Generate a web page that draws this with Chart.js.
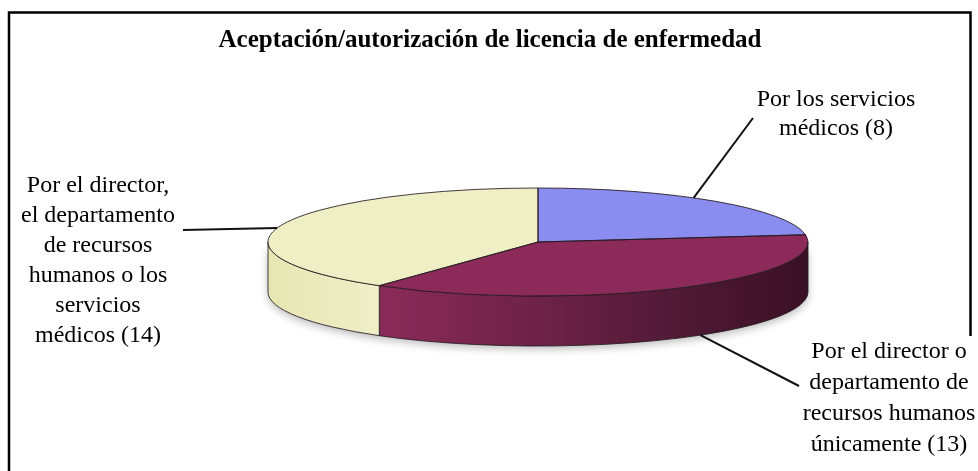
<!DOCTYPE html>
<html>
<head>
<meta charset="utf-8">
<script src="https://cdn.jsdelivr.net/npm/chart.js@4.4.1/dist/chart.umd.min.js"></script>
<style>
html,body{margin:0;padding:0;background:#ffffff;}
#wrap{width:978px;height:471px;position:relative;overflow:hidden;}
canvas{display:block;}
</style>
</head>
<body>
<div id="wrap"><canvas id="c" width="978" height="471"></canvas></div>
<script>
// ---- data ----
const chartTitle = "Aceptación/autorización de licencia de enfermedad";
const categories = [
  "Por los servicios médicos",
  "Por el director o departamento de recursos humanos únicamente",
  "Por el director, el departamento de recursos humanos o los servicios médicos"
];
const counts = [8, 13, 14];
const labelLines = [
  ["Por los servicios", "médicos"],
  ["Por el director o", "departamento de", "recursos humanos", "únicamente"],
  ["Por el director,", "el departamento", "de recursos", "humanos o los", "servicios", "médicos"]
];

// ---- styles / layout ----
const topColors = ["#8a8cf0", "#8c2a5a", "#efefc6"];
const DEPTH = 50;
const FONT = '"Liberation Serif", "Times New Roman", serif';
const labelLayout = [
  { x: 836, y: 106, lh: 29, anchorDeg: -54.8, onSide: false, end: [753, 118] },
  { x: 889, y: 358, lh: 31, anchorDeg: 53, onSide: true, end: [799, 386], whiteBox: true },
  { x: 98,  y: 192, lh: 30, anchorDeg: -165, onSide: false, end: [183, 230] }
];

function geom(chart) {
  const arc = chart.getDatasetMeta(0).data[0];
  const a = chart.chartArea;
  return { cx: arc.x, cy: arc.y, r: arc.outerRadius, rx: a.width / 2, ry: a.height / 2, depth: DEPTH };
}
function ellPt(g, ang, dy) {
  return [g.cx + g.rx * Math.cos(ang), g.cy + dy + g.ry * Math.sin(ang)];
}
function frontSegments(s, e) {
  const out = [];
  for (let k = -2; k <= 2; k++) {
    const lo = Math.max(s, 2 * Math.PI * k), hi = Math.min(e, 2 * Math.PI * k + Math.PI);
    if (hi > lo) out.push([lo, hi]);
  }
  return out;
}
function sidePath(c, g, a1, a2) {
  c.beginPath();
  c.ellipse(g.cx, g.cy, g.rx, g.ry, 0, a1, a2, false);
  c.ellipse(g.cx, g.cy + g.depth, g.rx, g.ry, 0, a2, a1, true);
  c.closePath();
}
function sideFill(c, g, i) {
  const x0 = g.cx - g.rx, x1 = g.cx + g.rx;
  const grd = c.createLinearGradient(x0, 0, x1, 0);
  if (i === 1) {
    grd.addColorStop(0, "#8e2d5b");
    grd.addColorStop(0.2, "#8a2b58");
    grd.addColorStop(0.5, "#6e2248");
    grd.addColorStop(0.75, "#511a35");
    grd.addColorStop(1, "#3a1024");
  } else if (i === 2) {
    grd.addColorStop(0, "#e6e6b3");
    grd.addColorStop(0.2, "#efefc8");
    grd.addColorStop(1, "#efefc8");
  } else {
    grd.addColorStop(0, "#6b6dc8");
    grd.addColorStop(1, "#6b6dc8");
  }
  return grd;
}

const pie3d = {
  id: 'pie3d',
  beforeDatasetsDraw(chart) {
    const c = chart.ctx;
    const g = geom(chart);
    const meta = chart.getDatasetMeta(0);
    // soft shadow under the whole front wall
    c.save();
    c.shadowColor = 'rgba(0,0,0,0.28)';
    c.shadowBlur = 8;
    c.shadowOffsetY = 3;
    sidePath(c, g, 0, Math.PI);
    c.fillStyle = '#ffffff';
    c.fill();
    c.restore();
    // side walls
    meta.data.forEach((arc, i) => {
      frontSegments(arc.startAngle, arc.endAngle).forEach(([a1, a2]) => {
        c.save();
        sidePath(c, g, a1, a2);
        c.fillStyle = sideFill(c, g, i);
        c.fill();
        c.lineWidth = 1;
        c.strokeStyle = 'rgba(35,25,30,0.85)';
        c.stroke();
        c.restore();
      });
    });
    // projection for the top face
    c.save();
    c.translate(g.cx, g.cy);
    c.scale(g.rx / g.r, g.ry / g.r);
    c.translate(-g.cx, -g.cy);
  },
  afterDatasetsDraw(chart) {
    const c = chart.ctx;
    c.restore();
    const g = geom(chart);
    const meta = chart.getDatasetMeta(0);
    meta.data.forEach((arc) => {
      c.save();
      c.beginPath();
      c.moveTo(g.cx, g.cy);
      c.ellipse(g.cx, g.cy, g.rx, g.ry, 0, arc.startAngle, arc.endAngle, false);
      c.closePath();
      c.lineWidth = 1;
      c.strokeStyle = 'rgba(35,25,30,0.85)';
      c.stroke();
      c.restore();
    });
  },
  afterDraw(chart) {
    const c = chart.ctx;
    const g = geom(chart);
    c.save();
    // frame
    c.lineWidth = 2.5;
    c.strokeStyle = '#000';
    c.beginPath();
    c.moveTo(9, 480);
    c.lineTo(9, 12.5);
    c.lineTo(970.5, 12.5);
    c.lineTo(970.5, 480);
    c.stroke();
    // title
    c.fillStyle = '#000';
    c.font = 'bold 25px ' + FONT;
    c.textAlign = 'center';
    c.textBaseline = 'alphabetic';
    c.fillText(chartTitle, 490, 47);
    // labels
    c.font = '24px ' + FONT;
    labelLayout.forEach((L, i) => {
      const lines = labelLines[i].slice();
      lines[lines.length - 1] = lines[lines.length - 1] + ' (' + counts[i] + ')';
      if (L.whiteBox) {
        let w = 0;
        lines.forEach(t => { w = Math.max(w, c.measureText(t).width); });
        c.fillStyle = '#fff';
        c.fillRect(L.x - w / 2 - 4, L.y - 22, w + 12, chart.height - (L.y - 22));
      }
      // leader line
      const p = ellPt(g, L.anchorDeg * Math.PI / 180, L.onSide ? g.depth : 0);
      c.beginPath();
      c.moveTo(p[0], p[1]);
      c.lineTo(L.end[0], L.end[1]);
      c.lineWidth = 2;
      c.strokeStyle = '#111';
      c.stroke();
      c.fillStyle = '#000';
      lines.forEach((t, k) => c.fillText(t, L.x, L.y + k * L.lh));
    });
    c.restore();
  }
};

new Chart(document.getElementById('c'), {
  type: 'pie',
  data: {
    labels: categories,
    datasets: [{ data: counts, backgroundColor: topColors, borderWidth: 0, clip: false }]
  },
  options: {
    responsive: false,
    animation: false,
    layout: { padding: { left: 268, right: 170, top: 188, bottom: 175 } },
    plugins: { legend: { display: false }, tooltip: { enabled: false }, title: { display: false } }
  },
  plugins: [pie3d]
});
</script>
</body>
</html>
